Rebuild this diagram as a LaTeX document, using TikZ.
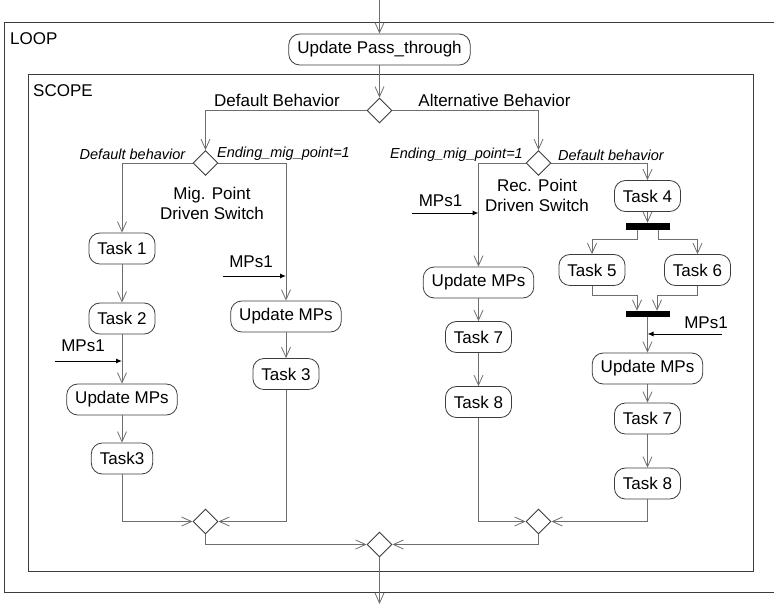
\documentclass[tikz,border=0pt]{standalone}
\usepackage{fontspec}
\setmainfont{Liberation Sans}
\usetikzlibrary{arrows.meta,shapes.geometric}
\definecolor{linegray}{HTML}{6E6E6E}
\definecolor{boxgray}{HTML}{3C3C3C}
\begin{document}
\begin{tikzpicture}[x=1pt,y=-1pt,
  txt/.style={font=\fontsize{17}{20}\selectfont, inner sep=0pt},
  cond/.style={font=\fontsize{14.5}{17}\selectfont\itshape, inner sep=0pt},
  action/.style={draw=boxgray, line width=0.8pt, rounded corners=11pt,
    minimum height=31pt, inner xsep=8.5pt, inner ysep=0pt,
    font=\fontsize{17}{20}\selectfont},
  choice/.style={diamond, draw=boxgray, line width=0.9pt, minimum width=25pt,
    minimum height=25pt, inner sep=0pt},
  syncbar/.style={fill=black, minimum width=44pt, minimum height=7pt, inner sep=0pt},
  flow/.style={draw=linegray, line width=0.8pt,
    -{Straight Barb[length=10pt,width=9pt,line width=0.8pt]}},
  feed/.style={draw=black, line width=1pt, -{Latex[length=6pt,width=5pt]}},
  frame/.style={draw=boxgray, line width=1pt}]
\useasboundingbox (0,0) rectangle (774,608);

% outer loop and inner scope frames
\draw[frame] (774,22) -- (4,22) -- (4,592) -- (774,592);
\draw[frame] (28,74) rectangle (753,571);
\node[txt, anchor=west] (looplbl) at (10,39) {LOOP};
\node[txt, anchor=west] (scopelbl) at (33,91) {SCOPE};

% entry and top decision
\coordinate (entry) at (379.5,0);
\node[action] (upd) at (379.5,49.5) {Update Pass\_through};
\node[choice] (d0) at (379.5,110.5) {};
\draw[flow] (entry) -- (upd.north);
\draw[flow] (upd.south) -- (d0.north);

% branch decisions
\node[choice] (dL) at (205.5,163) {};
\node[choice] (dR) at (538.5,163) {};
\draw[flow] (d0.west) -| (dL.north);
\draw[flow] (d0.east) -| (dR.north);
\node[txt] (defb) at (277,100) {Default Behavior};
\node[txt] (altb) at (494.5,100) {Alternative Behavior};

\node[cond] (cL1) at (132.5,154) {Default behavior};
\node[cond] (cL2) at (283.5,154) {Ending\_mig\_point=1};
\node[cond] (cR1) at (456.5,155) {Ending\_mig\_point=1};
\node[cond] (cR2) at (611,155) {Default behavior};

\node[txt, align=center] (migsw) at (212,203) {Mig. Point\\Driven Switch};
\node[txt, align=center] (recsw) at (537,195.5) {Rec. Point\\Driven Switch};

% left column
\node[action] (t1) at (122,248.5) {Task 1};
\node[action] (t2) at (122,318.5) {Task 2};
\node[action] (uL) at (122,399.5) {Update MPs};
\node[action] (t3L) at (122,458.5) {Task3};
\draw[flow] (dL.west) -| (t1.north);
\draw[flow] (t1.south) -- (t2.north);
\draw[flow] (t2.south) -- (uL.north);
\draw[flow] (uL.south) -- (t3L.north);
\coordinate (fA0) at (55,361);
\coordinate (fA1) at (122,361);
\draw[feed] (fA0) -- (fA1);
\node[txt] (mA) at (83,346) {MPs1};

% second column
\node[action] (uM) at (286,316.5) {Update MPs};
\node[action] (t3M) at (286,374) {Task 3};
\draw[flow] (dL.east) -| (uM.north);
\draw[flow] (uM.south) -- (t3M.north);
\coordinate (fB0) at (223,276);
\coordinate (fB1) at (286,276);
\draw[feed] (fB0) -- (fB1);
\node[txt] (mB) at (251,262) {MPs1};

% third column
\node[action] (uR) at (478.5,282.5) {Update MPs};
\node[action] (t7R) at (478.5,337) {Task 7};
\node[action] (t8R) at (478.5,402) {Task 8};
\draw[flow] (dR.west) -| (uR.north);
\draw[flow] (uR.south) -- (t7R.north);
\draw[flow] (t7R.south) -- (t8R.north);
\coordinate (fC0) at (412,213);
\coordinate (fC1) at (478.5,213);
\draw[feed] (fC0) -- (fC1);
\node[txt] (mC) at (440.5,201) {MPs1};

% fourth column with fork and join
\node[action] (t4) at (647.5,196) {Task 4};
\node[syncbar] (fork) at (647.5,226.5) {};
\node[action] (t5) at (592,270) {Task 5};
\node[action] (t6) at (697.5,270) {Task 6};
\node[syncbar, minimum height=6pt] (join) at (647.5,314) {};
\node[action] (uF) at (647.5,368.5) {Update MPs};
\node[action] (t7F) at (647.5,418.5) {Task 7};
\node[action] (t8F) at (647.5,483.5) {Task 8};
\draw[flow] (dR.east) -| (t4.north);
\draw[flow] (t4.south) -- (fork.north);
\draw[flow] ([xshift=-10.5pt]fork.south) -- ++(0,9) -| (t5.north);
\draw[flow] ([xshift=10.5pt]fork.south) -- ++(0,9) -| (t6.north);
\draw[flow] (t5.south) -- ++(0,9) -| ([xshift=-10.5pt]join.north);
\draw[flow] (t6.south) -- ++(0,9) -| ([xshift=9.5pt]join.north);
\draw[flow] (join.south) -- (uF.north);
\draw[flow] (uF.south) -- (t7F.north);
\draw[flow] (t7F.south) -- (t8F.north);
\coordinate (fD0) at (722,334);
\coordinate (fD1) at (647.5,334);
\draw[feed] (fD0) -- (fD1);
\node[txt] (mD) at (706,323) {MPs1};

% merges
\node[choice] (m1) at (205.5,521.5) {};
\node[choice] (m2) at (538.5,521.5) {};
\node[choice] (mAll) at (379.5,544.5) {};
\draw[flow] (t3L.south) |- (m1.west);
\draw[flow] (t3M.south) |- (m1.east);
\draw[flow] (t8R.south) |- (m2.west);
\draw[flow] (t8F.south) |- (m2.east);
\draw[flow] (m1.south) |- (mAll.west);
\draw[flow] (m2.south) |- (mAll.east);
\coordinate (exit) at (379.5,604);
\draw[flow] (mAll.south) -- (exit);
\end{tikzpicture}
\end{document}
